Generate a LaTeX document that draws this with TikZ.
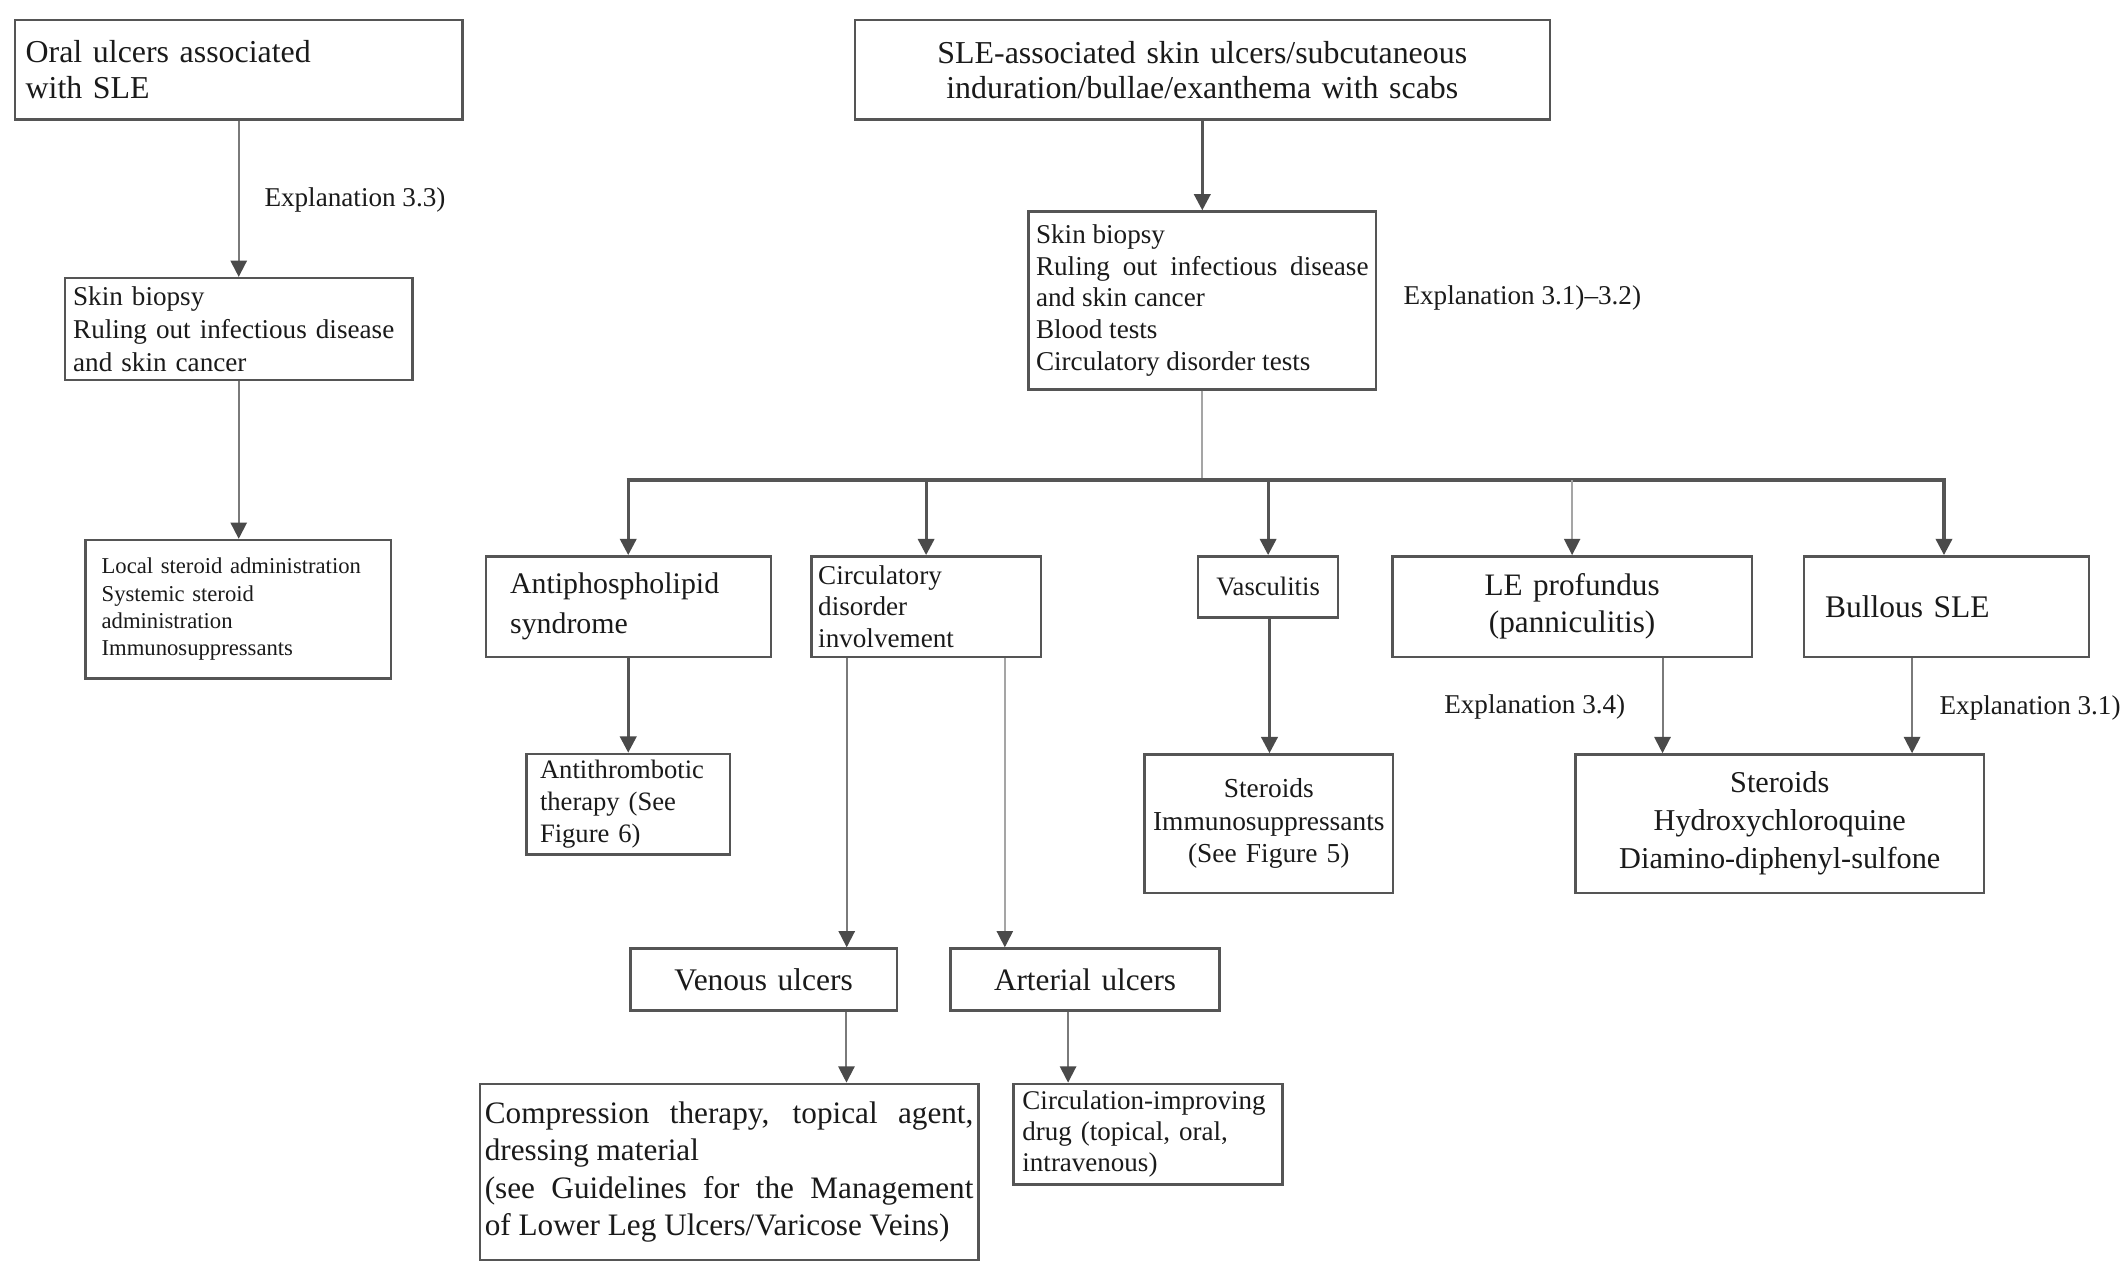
\documentclass[tikz,border=0pt]{standalone}
\usepackage{fontspec}
\setmainfont{Liberation Serif}
\usetikzlibrary{arrows.meta,calc}
\setlength\parindent{0pt}
\newcommand\fsz[2]{\fontsize{#1}{#2}\selectfont}
\definecolor{boxc}{HTML}{555555}
\definecolor{txt}{HTML}{1A1A1A}
\definecolor{dkc}{HTML}{555555}
\definecolor{mdc}{HTML}{7A7A7A}
\definecolor{ltc}{HTML}{A5A5A5}
\definecolor{tipc}{HTML}{4A4A4A}
\begin{document}
\begin{tikzpicture}[x=1pt,y=-1pt,
  box/.style={draw=boxc, line width=1.8pt, inner ysep=0pt, text=txt, anchor=north west},
  lbl/.style={text=txt, inner sep=0pt, anchor=west, font=\fsz{20}{23}},
  tip/.style={-{Triangle[width=12pt,length=12pt,color=tipc]}},
  dk/.style={draw=dkc, line width=2.3pt},
  md/.style={draw=mdc, line width=1.5pt},
  lt/.style={draw=ltc, line width=1.2pt}]
\useasboundingbox[fill=white] (0,0) rectangle (1568,938);

% left column
\node[box, minimum width=330pt, minimum height=73pt, inner xsep=8pt, text width=314pt, align=left, font=\fsz{23.5}{27}]
  (oral) at (10,14) {Oral ulcers associated\\with SLE};
\node[box, minimum width=256pt, minimum height=75pt, inner xsep=6pt, text width=244pt, align=left, font=\fsz{20}{24.5}]
  (skinL) at (47,204) {Skin biopsy\\Ruling out infectious disease\\and skin cancer};
\node[box, minimum width=225pt, minimum height=102pt, inner xsep=12pt, text width=201pt, align=left, font=\fsz{16.7}{20}]
  (localL) at (62,397) {Local steroid administration\\Systemic steroid\\administration\\Immunosuppressants};

% top centre
\node[box, minimum width=512pt, minimum height=73pt, inner xsep=2pt, text width=508pt, align=center, font=\fsz{23.5}{26}]
  (sle) at (629,14) {SLE-associated skin ulcers/subcutaneous\\induration/bullae/exanthema with scabs};
\node[box, minimum width=256pt, minimum height=131pt, inner xsep=5.5pt, text width=245pt, align=justify, font=\fsz{20}{23.3}]
  (skinC) at (757,155) {Skin biopsy\par Ruling out infectious disease\linebreak and skin cancer\par Blood tests\par Circulatory disorder tests};

% second row
\node[box, minimum width=210pt, minimum height=74pt, inner xsep=18pt, text width=174pt, align=left, font=\fsz{22}{29}]
  (antiphos) at (357,409) {Antiphospholipid\\syndrome};
\node[box, minimum width=169pt, minimum height=74pt, inner xsep=5pt, text width=159pt, align=left, font=\fsz{20}{23}]
  (circ) at (597,409) {Circulatory\\disorder\\involvement};
\node[box, minimum width=103pt, minimum height=45pt, inner xsep=2pt, text width=99pt, align=center, font=\fsz{19.6}{23}]
  (vasc) at (882,409) {Vasculitis};
\node[box, minimum width=265pt, minimum height=74pt, inner xsep=2pt, text width=261pt, align=center, font=\fsz{23}{27}]
  (lep) at (1025,409) {LE profundus\\(panniculitis)};
\node[box, minimum width=210pt, minimum height=74pt, inner xsep=15.5pt, text width=179pt, align=left, font=\fsz{23.2}{27}]
  (bullous) at (1328.5,409) {Bullous SLE};

% third row
\node[box, minimum width=150pt, minimum height=74pt, inner xsep=10pt, text width=130pt, align=left, font=\fsz{19.6}{23.3}]
  (antithr) at (387,554.6) {Antithrombotic\\therapy (See\\Figure 6)};
\node[box, minimum width=183pt, minimum height=102pt, inner xsep=2pt, text width=179pt, align=center, font=\fsz{20.2}{24}]
  (sterV) at (842.5,555) {Steroids\\Immunosuppressants\\(See Figure 5)};
\node[box, minimum width=301pt, minimum height=102pt, inner xsep=2pt, text width=297pt, align=center, font=\fsz{22.3}{28}]
  (sterB) at (1160,555) {Steroids\\Hydroxychloroquine\\Diamino-diphenyl-sulfone};

% fourth row
\node[box, minimum width=196.4pt, minimum height=45.6pt, inner xsep=2pt, text width=192pt, align=center, font=\fsz{23.2}{27}]
  (venous) at (463.6,698) {Venous ulcers};
\node[box, minimum width=198pt, minimum height=45.6pt, inner xsep=2pt, text width=194pt, align=center, font=\fsz{23}{27}]
  (arterial) at (699.6,698) {Arterial ulcers};

% bottom row
\node[box, minimum width=367.3pt, minimum height=130pt, inner xsep=3.5pt, text width=360pt, align=justify, font=\fsz{23}{27.4}]
  (compr) at (352.7,797.7) {Compression therapy, topical agent,\linebreak dressing material\par (see Guidelines for the Management\linebreak of Lower Leg Ulcers/Varicose Veins)};
\node[box, minimum width=198pt, minimum height=74.2pt, inner xsep=6.5pt, text width=185pt, align=left, font=\fsz{19.9}{22.8}]
  (circimp) at (746,797.7) {Circulation-improving\\drug (topical, oral,\\intravenous)};

% labels
\node[lbl] (ex33) at (194.7,147.4) {Explanation 3.3)};
\node[lbl] (ex312) at (1034,219.5) {Explanation 3.1)--3.2)};
\node[lbl] (ex34) at (1064,520.7) {Explanation 3.4)};
\node[lbl] (ex31) at (1429,521.7) {Explanation 3.1)};

% connectors: left column
\draw[md, tip] (oral.south) -- (oral.south |- skinL.north);
\draw[md, tip] (skinL.south) -- (skinL.south |- localL.north);

% connectors: centre
\draw[dk, tip] (sle.south) -- (sle.south |- skinC.north);
\coordinate (barY) at (0,353.7);
\coordinate (barC) at (skinC.south |- barY);
\coordinate (barL) at (antiphos.north |- barY);
\coordinate (barR) at ([xshift=-2pt]bullous.north |- barY);
\draw[lt] (skinC.south) -- (barC);
\draw[dk] ([xshift=-1.15pt]barL) -- ([xshift=1.15pt]barR);
\draw[dk, tip] (barL) -- (antiphos.north);
\draw[dk, tip] (circ.north |- barY) -- (circ.north);
\draw[dk, tip] (vasc.north |- barY) -- (vasc.north);
\draw[lt, tip] (lep.north |- barY) -- (lep.north);
\draw[dk, tip] (barR) -- (barR |- bullous.north);

% connectors: lower
\draw[dk, tip] (antiphos.south) -- (antiphos.south |- antithr.north);
\draw[md, tip] ([xshift=-58.5pt]circ.south) -- ([xshift=-58.5pt]circ.south |- venous.north);
\draw[lt, tip] ([xshift=58pt]circ.south) -- ([xshift=58pt]circ.south |- arterial.north);
\draw[dk, tip] ([xshift=1pt]vasc.south) -- ([xshift=1pt]vasc.south |- sterV.north);
\draw[md, tip] ([xshift=66.6pt]lep.south) -- ([xshift=66.6pt]lep.south |- sterB.north);
\draw[md, tip] ([xshift=-25.5pt]bullous.south) -- ([xshift=-25.5pt]bullous.south |- sterB.north);
\draw[md, tip] ([xshift=61pt]venous.south) -- ([xshift=61pt]venous.south |- compr.north);
\draw[md, tip] ([xshift=-12.5pt]arterial.south) -- ([xshift=-12.5pt]arterial.south |- circimp.north);
\end{tikzpicture}
\end{document}
